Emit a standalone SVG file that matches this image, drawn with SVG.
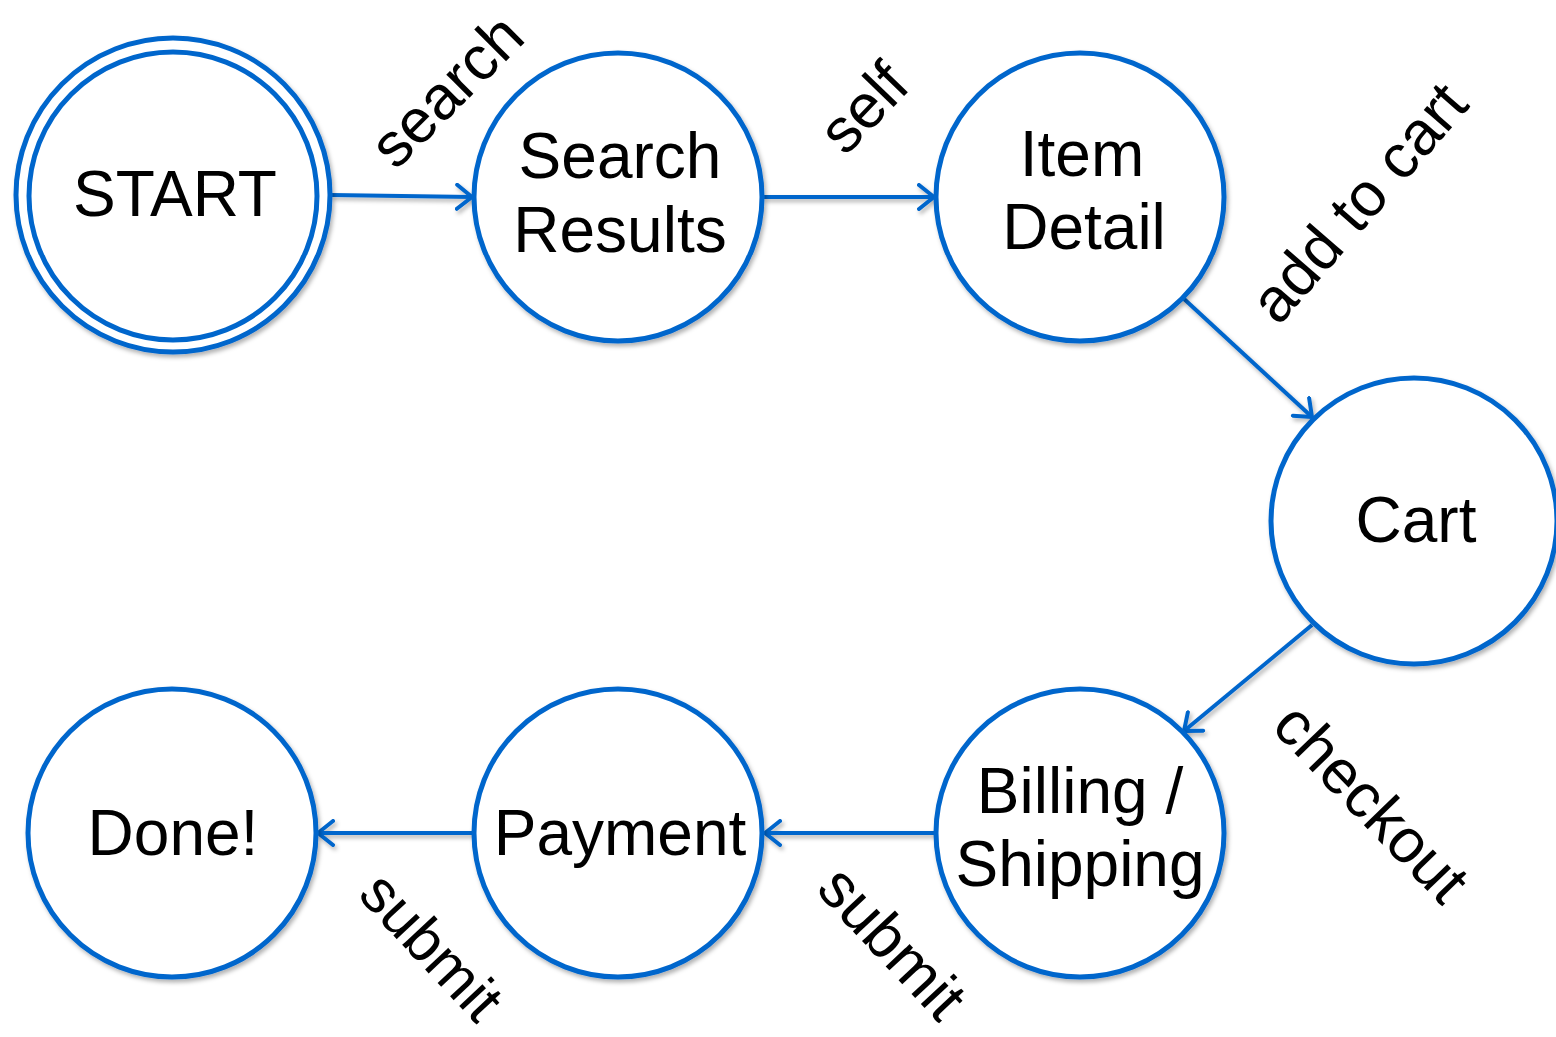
<svg xmlns="http://www.w3.org/2000/svg" width="1556" height="1037" viewBox="0 0 1556 1037">
<style>
.node{fill:#fff;stroke:#0066cc;stroke-width:5}
.edge{fill:none;stroke:#0066cc;stroke-width:4}
.nt{font-family:"Liberation Sans",Arial,sans-serif;font-size:64px;fill:#000;text-anchor:middle}
.lt{font-family:"Liberation Sans",Arial,sans-serif;font-size:62px;fill:#000;text-anchor:middle}
</style>
<defs>
<filter id="sh" x="-10%" y="-10%" width="125%" height="125%">
<feDropShadow dx="2" dy="3" stdDeviation="2" flood-color="#000" flood-opacity="0.3"/>
</filter>
<marker id="arr" markerUnits="userSpaceOnUse" viewBox="0 0 20 28" markerWidth="20" markerHeight="28" refX="17" refY="14" orient="auto">
<path d="M2,2 L17,14 L2,26" fill="none" stroke="#0066cc" stroke-width="4" stroke-linecap="round" stroke-linejoin="round"/>
</marker>
</defs>
<g id="connectors" filter="url(#sh)">
<path class="edge" d="M331,195 L472,197" marker-end="url(#arr)"/>
<path class="edge" d="M763,197 L934,197" marker-end="url(#arr)"/>
<path class="edge" d="M1183,298 L1312,417" marker-end="url(#arr)"/>
<path class="edge" d="M1312,625 L1184,731" marker-end="url(#arr)"/>
<path class="edge" d="M936,833 L765,833" marker-end="url(#arr)"/>
<path class="edge" d="M474,833 L318,833" marker-end="url(#arr)"/>
</g>
<g id="start" filter="url(#sh)">
<circle class="node" cx="173" cy="195" r="157"/>
<circle class="node" cx="173" cy="196" r="144"/>
<text class="nt" x="175" y="216">START</text>
</g>
<g id="search-results" filter="url(#sh)">
<circle class="node" cx="618" cy="197" r="144"/>
<text class="nt" x="620" y="178">Search</text>
<text class="nt" x="620" y="252">Results</text>
</g>
<g id="item-detail" filter="url(#sh)">
<circle class="node" cx="1080" cy="197" r="144"/>
<text class="nt" x="1082" y="176">Item</text>
<text class="nt" x="1084" y="249">Detail</text>
</g>
<g id="cart" filter="url(#sh)">
<circle class="node" cx="1414" cy="521" r="143"/>
<text class="nt" x="1416" y="542">Cart</text>
</g>
<g id="billing" filter="url(#sh)">
<circle class="node" cx="1080" cy="833" r="144"/>
<text class="nt" x="1080" y="813">Billing /</text>
<text class="nt" x="1080" y="886">Shipping</text>
</g>
<g id="payment" filter="url(#sh)">
<circle class="node" cx="618" cy="833" r="144"/>
<text class="nt" x="620" y="855">Payment</text>
</g>
<g id="done" filter="url(#sh)">
<circle class="node" cx="172" cy="833" r="144"/>
<text class="nt" x="173" y="855">Done!</text>
</g>
<g id="labels">
<text class="lt" x="446" y="112" transform="rotate(-45 446 90)">search</text>
<text class="lt" x="863" y="129" transform="rotate(-46 863 107)">self</text>
<text class="lt" x="1358" y="224" transform="rotate(-49 1358 202)">add to cart</text>
<text class="lt" x="1372" y="824" transform="rotate(46 1372 802)">checkout</text>
<text class="lt" x="893" y="964" transform="rotate(47 893 942)">submit</text>
<text class="lt" x="432" y="967" transform="rotate(47 432 946)" style="font-size:60px">submit</text>
</g>
</svg>
